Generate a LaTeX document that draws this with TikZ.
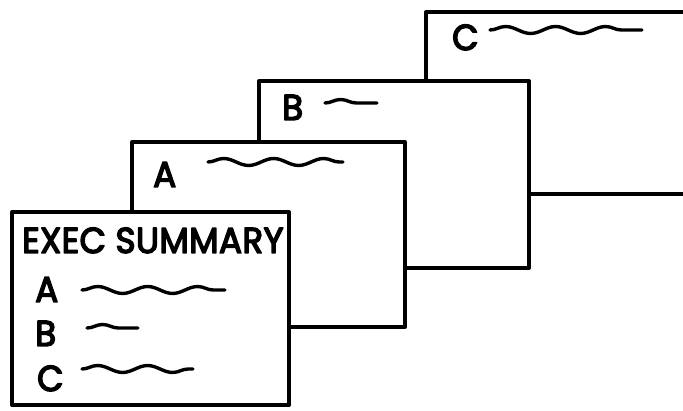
\documentclass[tikz,border=0pt]{standalone}
\usepackage{fontspec}
\setmainfont[FakeStretch=0.95, FakeBold=4, LetterSpace=1]{Poppins}
\usetikzlibrary{positioning,decorations.pathmorphing}

\begin{document}
\begin{tikzpicture}[x=1pt, y=-1pt, line join=round, line cap=round,
  page/.style={draw, fill=white, line width=4pt, anchor=north west, inner sep=0pt},
  hand/.style={font=\fontsize{36}{40}\selectfont, inner sep=0pt, anchor=base west},
  squiggle/.style={line width=3.4pt, decorate, decoration={snake, amplitude=3.5pt, segment length=50pt}}]
  \clip (0,0) rectangle (683,411);
  % pages, back to front
  \node[page, minimum width=290pt, minimum height=182pt] (pageC) at (424,10) {};
  \node[page, minimum width=270pt, minimum height=187pt] (pageB) at (257,79) {};
  \node[page, minimum width=273pt, minimum height=185pt] (pageA) at (130,140) {};
  \node[page, minimum width=277pt, minimum height=193pt] (summary) at (10,210) {};

  % page headings
  \node[hand] (hdC) at (452,50) {C};
  \draw[squiggle] (490,30) coordinate (sqC) -- (642,30);
  \node[hand] (hdB) at (282,120) {B};
  \draw[squiggle] (325,103) coordinate (sqB) -- (377,103);
  \node[hand] (hdA) at (153,187) {A};
  \draw[squiggle] (208,162) coordinate (sqA) -- (343,162);

  % summary page
  \node[hand] (title) at (22,253) {EXEC SUMMARY};
  \node[hand] (itemA) at (35,302) {A};
  \draw[squiggle] (82,290) -- (225,290);
  \node[hand] (itemB) at (35,346) {B};
  \draw[squiggle] (87,328) -- (138,328);
  \node[hand] (itemC) at (37,391) {C};
  \draw[squiggle] (82,369) -- (193,369);
\end{tikzpicture}
\end{document}
